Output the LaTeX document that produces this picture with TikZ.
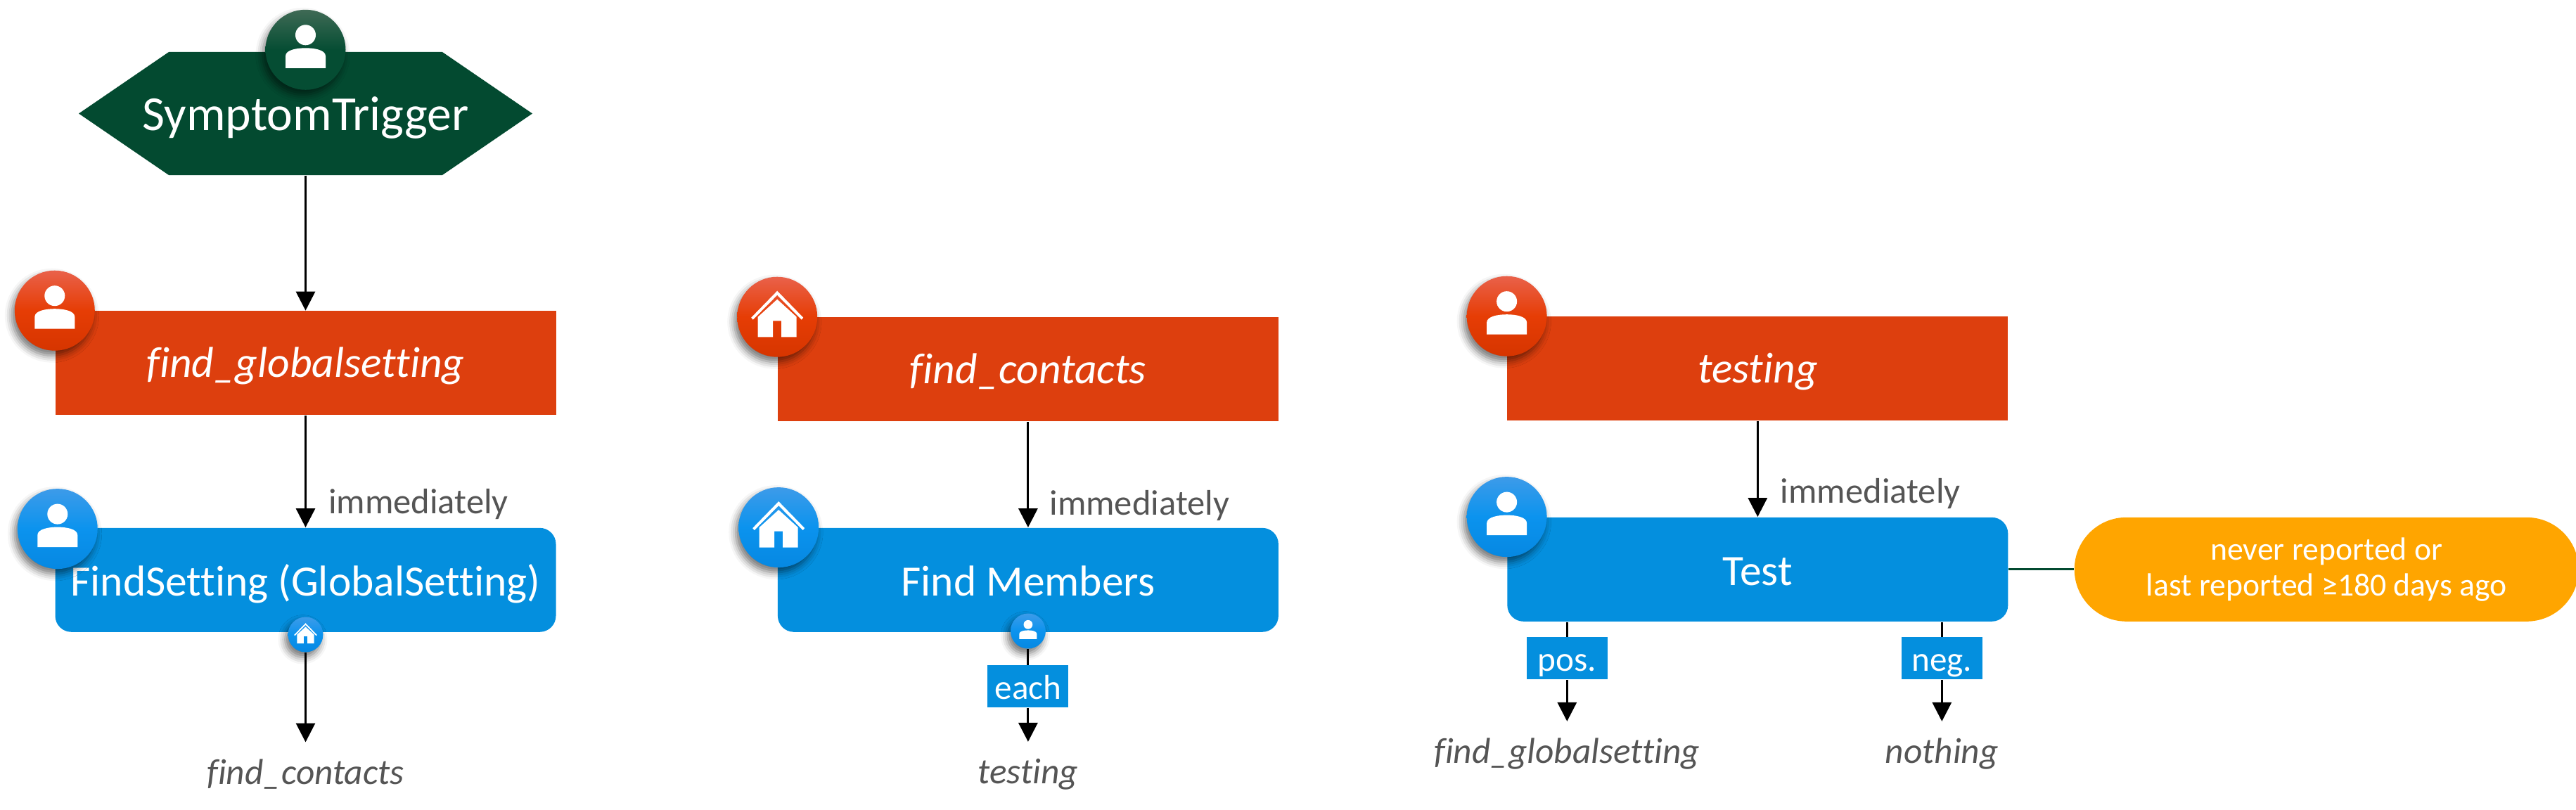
\documentclass[tikz,border=0pt]{standalone}
\usepackage{fontspec}
\setmainfont{Carlito}[Ligatures=NoCommon]
\usetikzlibrary{arrows.meta,positioning,shadows.blur}

\definecolor{darkgreen}{HTML}{034A30}
\definecolor{taskred}{HTML}{DD3F0E}
\definecolor{svcblue}{HTML}{048FDE}
\definecolor{outorange}{HTML}{FFA500}
\definecolor{labelgrey}{HTML}{555555}
\definecolor{greentop}{HTML}{3F6A55}
\definecolor{greenmid}{HTML}{054D33}
\definecolor{redtop}{HTML}{E9614A}
\definecolor{redmid}{HTML}{E63D05}
\definecolor{redlow}{HTML}{D63500}
\definecolor{bluetop}{HTML}{3D9BE9}
\definecolor{bluemid}{HTML}{0B93EE}
\definecolor{bluelow}{HTML}{0688E2}

\begin{document}
\begin{tikzpicture}[
            every node/.style={align=center, font=\fontsize{17.5}{21}\selectfont},
            trigger/.style={text=white, minimum width=6.45cm, minimum height=1.75cm, inner sep=0pt, text height=.55cm, text depth=.08cm,
                            font=\fontsize{19.8}{23}\selectfont,
                            path picture={\fill[darkgreen] (path picture bounding box.west) -- ++(1.28,.875) -- ++(3.89,0) -- ++(1.28,-.875)
                                          -- ++(-1.28,-.875) -- ++(-3.89,0) -- cycle;}},
            task/.style={fill=taskred, text=white, minimum width=7.12cm, minimum height=1.48cm, inner sep=0pt, text height=.5cm, text depth=.1cm,
                         font=\fontsize{17.5}{21}\selectfont\itshape},
            service/.style={fill=svcblue, text=white, rounded corners=.23cm, minimum width=7.12cm, minimum height=1.48cm, inner sep=0pt,
                            text height=.53cm, text depth=.07cm},
            outcome/.style={fill=outorange, text=white, rounded corners=.74cm, minimum width=7.17cm, minimum height=1.48cm, inner sep=0pt,
                            font=\fontsize{13}{14.6}\selectfont},
            tag/.style={fill=svcblue, text=white, minimum width=1.15cm, minimum height=.6cm, inner sep=0pt, text height=.44cm, text depth=.07cm,
                        font=\fontsize{14}{17}\selectfont},
            cond/.style={text=labelgrey, inner sep=0pt, font=\fontsize{14.4}{17}\selectfont},
            ref/.style={text=labelgrey, inner sep=.27cm, text height=.32cm, text depth=.1cm, font=\fontsize{14.6}{17}\selectfont\itshape},
            badge/.style={circle, minimum size=1.14cm, inner sep=0pt,
                          blur shadow={shadow xshift=-.04cm, shadow yshift=-.07cm, shadow blur radius=.1cm, shadow opacity=55}},
            badgegreen/.style={badge, top color=greentop, bottom color=greenmid, middle color=greenmid},
            badgered/.style={badge, top color=redtop, bottom color=redlow, middle color=redmid},
            badgeblue/.style={badge, top color=bluetop, bottom color=bluelow, middle color=bluemid},
            small/.style={minimum size=.5cm},
            flow/.style={-{Triangle[width=.27cm,length=.27cm]}, line width=.03cm, black},
            plain/.style={line width=.03cm, black},
            pics/person/.style={code={
              \fill[white] (0,.21) ellipse (.145 and .145);
              \fill[white] (-.285,-.26) -- (-.285,-.09) .. controls (-.285,0) and (-.12,.025) .. (0,.025)
                           .. controls (.12,.025) and (.285,0) .. (.285,-.09) -- (.285,-.26) -- cycle;
            }},
            pics/house/.style={code={
              \fill[white] (-.37,-.01) -- (0,.37) -- (.37,-.01) -- (.345,-.04) -- (0,.31) -- (-.345,-.04) -- cycle;
              \fill[white] (-.275,-.286) -- (-.275,.0) -- (0,.25) -- (.275,.0) -- (.275,-.286) -- (.06,-.286)
                           -- (.06,-.056) -- (-.06,-.056) -- (-.06,-.286) -- cycle;
            }}
  ]

  \useasboundingbox (0,0) rectangle (36.63,-11.52);

  % first column
  \node[trigger] (symptom) at (4.345,-1.615) {SymptomTrigger};
  \node[task] (globalsetting) [below=1.92cm of symptom] {find\_globalsetting};
  \node[service] (findsetting) [below=1.59cm of globalsetting] {FindSetting (GlobalSetting)};
  \node[ref] (contactsref) [below=1.56cm of findsetting] {find\_contacts};

  % second column
  \node[task] (contacts) [right=3.14cm of globalsetting, yshift=-.09cm] {find\_contacts};
  \node[service] (members) [below=1.5cm of contacts] {Find Members};
  \node[tag] (each) [below=.46cm of members] {each};
  \node[ref] (testingref) [below=.48cm of each] {testing};

  % third column
  \node[task] (testing) [right=3.24cm of contacts, yshift=.01cm] {testing};
  \node[service] (test) [below=1.36cm of testing] {Test};
  \node[outcome] (reported) [right=.93cm of test] {never reported or\\last reported ≥180 days ago};
  \node[tag] (pos) [below=.21cm of test, xshift=-2.71cm] {pos.};
  \node[tag] (neg) [below=.21cm of test, xshift=2.62cm] {neg.};
  \node[ref] (globalref) [below=.59cm of pos] {find\_globalsetting};
  \node[ref] (nothing) [below=.59cm of neg] {nothing};

  \draw[flow] (symptom) -- (globalsetting);
  \draw[flow] (globalsetting) -- node[cond, pos=.79, right=.31cm] {immediately} (findsetting);
  \draw[flow] (contacts) -- node[cond, pos=.79, right=.29cm] {immediately} (members);
  \draw[flow] (testing) -- node[cond, pos=.76, right=.31cm] {immediately} (test);

  \draw[plain, darkgreen] (test) -- (reported);
  \draw[plain] (test.south -| pos) -- (pos);
  \draw[plain] (test.south -| neg) -- (neg);
  \draw[flow] (pos) -- (globalref);
  \draw[flow] (neg) -- (nothing);

  % badges go over the boxes
  \node[badgegreen] (symptombadge) at ([yshift=.025cm]symptom.north) {};
  \node[badgered] (globalbadge) at (globalsetting.north west) {};
  \node[badgeblue] (findbadge) at ([shift={(.04,-.02)}]findsetting.north west) {};
  \node[badgeblue, small] (findsub) at ([yshift=-.03cm]findsetting.south) {};
  \node[badgered] (contactsbadge) at (contacts.north west) {};
  \node[badgeblue] (membersbadge) at ([xshift=.02cm]members.north west) {};
  \node[badgeblue, small] (membersub) at ([yshift=.02cm]members.south) {};
  \node[badgered] (testingbadge) at (testing.north west) {};
  \node[badgeblue] (testbadge) at (test.north west) {};

  \draw[flow] (findsub) -- (contactsref);
  \draw[plain] (membersub) -- (each);
  \draw[flow] (each) -- (testingref);

  \pic at (symptombadge) {person};
  \pic at (globalbadge) {person};
  \pic at (findbadge) {person};
  \pic[scale=.44] at (findsub) {house};
  \pic at (contactsbadge) {house};
  \pic at (membersbadge) {house};
  \pic[scale=.44] at (membersub) {person};
  \pic at (testingbadge) {person};
  \pic at (testbadge) {person};

\end{tikzpicture}
\end{document}
